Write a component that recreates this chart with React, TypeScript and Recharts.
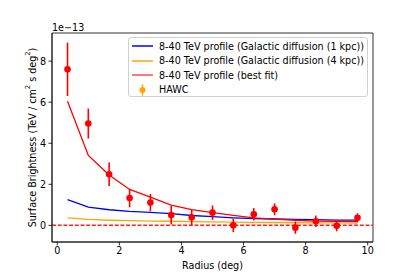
import React from "react";
import {
  ComposedChart,
  Line,
  Scatter,
  ErrorBar,
  XAxis,
  YAxis,
  ReferenceLine,
  ReferenceArea,
  Legend,
  Label,
} from "recharts";

// radius bins (deg)
const radius = [0.33, 1.0, 1.67, 2.33, 3.0, 3.67, 4.33, 5.0, 5.67, 6.33, 7.0, 7.67, 8.33, 9.0, 9.67];
// surface brightness in units of 1e-13 TeV / cm^2 s deg^2
const hawc = [7.6, 4.96, 2.49, 1.33, 1.11, 0.5, 0.39, 0.62, 0.0, 0.54, 0.78, -0.11, 0.2, -0.02, 0.37];
const hawcErr = [1.3, 0.73, 0.57, 0.45, 0.42, 0.45, 0.37, 0.35, 0.33, 0.3, 0.29, 0.3, 0.28, 0.27, 0.22];
const bestFit = [6.05, 3.41, 2.45, 1.75, 1.38, 0.99, 0.77, 0.62, 0.49, 0.37, 0.3, 0.25, 0.21, 0.19, 0.18];
const diff1kpc = [1.25, 0.89, 0.76, 0.68, 0.63, 0.57, 0.48, 0.43, 0.37, 0.33, 0.31, 0.29, 0.28, 0.26, 0.26];
const diff4kpc = [0.37, 0.29, 0.25, 0.23, 0.21, 0.2, 0.18, 0.17, 0.16, 0.15, 0.14, 0.13, 0.12, 0.12, 0.11];

const xTicks = [0, 2, 4, 6, 8, 10];
const yTicks = [0, 2, 4, 6, 8];

const legendItems = [
  { name: "8-40 TeV profile (Galactic diffusion (1 kpc))", color: "#0000ff", kind: "line" },
  { name: "8-40 TeV profile (Galactic diffusion (4 kpc))", color: "#ffa500", kind: "line" },
  { name: "8-40 TeV profile (best fit)", color: "#ff4d4d", kind: "line" },
  { name: "HAWC", color: "#ffa500", kind: "point" },
];

const data = radius.map((r, i) => ({
  r,
  hawc: hawc[i],
  err: hawcErr[i],
  best: bestFit[i],
  d1: diff1kpc[i],
  d4: diff4kpc[i],
}));

const FONT = "DejaVu Sans, Verdana, sans-serif";
const FS = 9.6;

const XMIN = -0.17;
const XMAX = 10.17;
const YMIN = -0.81;
const YMAX = 9.37;

const Dot = (props: any) => {
  const { cx, cy } = props;
  if (cx == null || cy == null) return null;
  return <circle cx={cx} cy={cy} r={3.3} fill="#ff0000" />;
};

const renderLegend = () => (
  <div
    style={{
      width: 240,
      height: 60,
      background: "rgba(255,255,255,0.8)",
      border: "1px solid #d0d0d0",
      borderRadius: 3,
      fontFamily: FONT,
      fontSize: FS,
      color: "#000",
      boxSizing: "border-box",
      paddingTop: 1,
    }}
  >
    {legendItems.map((it) => (
      <div key={it.name} style={{ display: "flex", alignItems: "center", height: 14.5 }}>
        <svg width={30} height={14} style={{ flex: "none" }}>
          {it.kind === "line" ? (
            <line x1={3} x2={24} y1={7} y2={7} stroke={it.color} strokeWidth={1.5} />
          ) : (
            <g>
              <line x1={13.5} x2={13.5} y1={1.5} y2={12.5} stroke={it.color} strokeWidth={1.5} />
              <circle cx={13.5} cy={7} r={3} fill={it.color} />
            </g>
          )}
        </svg>
        <span style={{ whiteSpace: "nowrap" }}>{it.name}</span>
      </div>
    ))}
  </div>
);

const YLabel = () => (
  <text
    x={32}
    y={137.5}
    transform="rotate(-90 32 137.5)"
    textAnchor="middle"
    dominantBaseline="central"
    fontFamily={FONT}
    fontSize={FS}
    fill="#000"
  >
    Surface Brightness (TeV / cm
    <tspan dy={-4} fontSize={6.8}>2</tspan>
    <tspan dy={4}> s deg</tspan>
    <tspan dy={-4} fontSize={6.8}>2</tspan>
    <tspan dy={4}>)</tspan>
  </text>
);

const tickStyle = { fontFamily: FONT, fontSize: FS, fill: "#000" };

export default function App() {
  return (
    <div style={{ position: "absolute", left: 0, top: 0, width: 415, height: 277, background: "#fff" }}>
      <ComposedChart
        width={415}
        height={277}
        data={data}
        margin={{ top: 33, right: 42, bottom: 0, left: 0 }}
      >
        <XAxis
          dataKey="r"
          type="number"
          domain={[XMIN, XMAX]}
          ticks={xTicks}
          allowDataOverflow
          height={35}
          tickSize={3.5}
          tickMargin={2}
          tick={tickStyle}
          stroke="#000"
          axisLine={{ stroke: "#000", strokeWidth: 0.8 }}
          tickLine={{ stroke: "#000", strokeWidth: 0.8 }}
        >
          <Label
            value="Radius (deg)"
            position="insideBottom"
            offset={8}
            style={{ fontFamily: FONT, fontSize: FS, fill: "#000" }}
          />
        </XAxis>
        <YAxis
          type="number"
          domain={[YMIN, YMAX]}
          ticks={yTicks}
          allowDataOverflow
          width={52}
          tickSize={3.5}
          tickMargin={2.5}
          tick={tickStyle}
          axisLine={{ stroke: "#000", strokeWidth: 0.8 }}
          tickLine={{ stroke: "#000", strokeWidth: 0.8 }}
          label={<YLabel />}
        />
        <ReferenceArea
          x1={XMIN}
          x2={XMAX}
          y1={YMIN}
          y2={YMAX}
          fill="none"
          fillOpacity={0}
          stroke="#000"
          strokeWidth={0.8}
        />
        <Line dataKey="d1" stroke="#0000ff" strokeWidth={1.3} dot={false} isAnimationActive={false} />
        <Line dataKey="d4" stroke="#ffa500" strokeWidth={1.3} dot={false} isAnimationActive={false} />
        <Line dataKey="best" stroke="#ff0000" strokeWidth={1.3} dot={false} isAnimationActive={false} />
        <ReferenceLine
          y={0}
          stroke="#ff2020"
          strokeOpacity={1}
          strokeWidth={1.5}
          strokeDasharray="4 1.7"
        />
        <Scatter dataKey="hawc" fill="#ff0000" shape={<Dot />} isAnimationActive={false}>
          <ErrorBar dataKey="err" direction="y" width={0} stroke="#ff0000" strokeWidth={1.6} />
        </Scatter>
        <Legend
          layout="vertical"
          align="center"
          verticalAlign="middle"
          content={renderLegend}
          wrapperStyle={{ left: 128, top: 37, width: 240, height: 60 }}
        />
        <text x={52} y={27.5} dominantBaseline="central" fontFamily={FONT} fontSize={FS} fill="#000">
          1e−13
        </text>
      </ComposedChart>
    </div>
  );
}
